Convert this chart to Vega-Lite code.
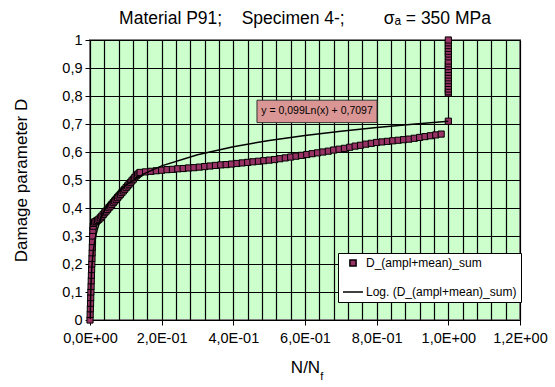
{
  "$schema": "https://vega.github.io/schema/vega-lite/v6.json",
  "width": 430,
  "height": 280,
  "autosize": {"type": "none"},
  "padding": {"left": 90, "top": 40, "right": 35, "bottom": 67},
  "background": "white",
  "title": {"text": "Material P91;\u00a0\u00a0\u00a0\u00a0Specimen 4-;\u00a0\u00a0\u00a0\u00a0\u00a0\u00a0\u00a0\u00a0σₐ = 350 MPa", "font": "Liberation Sans", "fontSize": 17.5, "fontWeight": "normal", "color": "black", "offset": 5, "anchor": "middle"},
  "datasets": {
    "points": [
      {"x": 0.0, "D": 0.0}, {"x": 0.0005, "D": 0.02}, {"x": 0.001, "D": 0.04}, {"x": 0.0015, "D": 0.06}, {"x": 0.002, "D": 0.08},
      {"x": 0.0025, "D": 0.10}, {"x": 0.003, "D": 0.12}, {"x": 0.0035, "D": 0.14}, {"x": 0.004, "D": 0.16}, {"x": 0.0045, "D": 0.18},
      {"x": 0.005, "D": 0.20}, {"x": 0.0055, "D": 0.22}, {"x": 0.006, "D": 0.24}, {"x": 0.0065, "D": 0.26}, {"x": 0.007, "D": 0.28},
      {"x": 0.0075, "D": 0.30}, {"x": 0.008, "D": 0.32}, {"x": 0.009, "D": 0.335}, {"x": 0.010, "D": 0.345},
      {"x": 0.013, "D": 0.350}, {"x": 0.017, "D": 0.353}, {"x": 0.021, "D": 0.356}, {"x": 0.025, "D": 0.360}, {"x": 0.029, "D": 0.365},
      {"x": 0.033, "D": 0.371}, {"x": 0.037, "D": 0.377}, {"x": 0.041, "D": 0.383}, {"x": 0.045, "D": 0.389}, {"x": 0.049, "D": 0.395},
      {"x": 0.053, "D": 0.401}, {"x": 0.057, "D": 0.407}, {"x": 0.061, "D": 0.413}, {"x": 0.065, "D": 0.419}, {"x": 0.069, "D": 0.425},
      {"x": 0.073, "D": 0.431}, {"x": 0.077, "D": 0.437}, {"x": 0.081, "D": 0.443}, {"x": 0.085, "D": 0.449}, {"x": 0.089, "D": 0.455},
      {"x": 0.093, "D": 0.461}, {"x": 0.097, "D": 0.467}, {"x": 0.101, "D": 0.473}, {"x": 0.105, "D": 0.479}, {"x": 0.109, "D": 0.485},
      {"x": 0.113, "D": 0.491}, {"x": 0.117, "D": 0.497}, {"x": 0.121, "D": 0.503}, {"x": 0.125, "D": 0.509}, {"x": 0.129, "D": 0.515},
      {"x": 0.133, "D": 0.520}, {"x": 0.137, "D": 0.524},
      {"x": 0.140, "D": 0.527}, {"x": 0.155, "D": 0.529}, {"x": 0.170, "D": 0.531}, {"x": 0.185, "D": 0.533}, {"x": 0.200, "D": 0.535},
      {"x": 0.215, "D": 0.537}, {"x": 0.230, "D": 0.538}, {"x": 0.245, "D": 0.540}, {"x": 0.260, "D": 0.541}, {"x": 0.275, "D": 0.543},
      {"x": 0.290, "D": 0.544}, {"x": 0.305, "D": 0.546}, {"x": 0.320, "D": 0.548}, {"x": 0.335, "D": 0.550}, {"x": 0.350, "D": 0.552},
      {"x": 0.365, "D": 0.554}, {"x": 0.380, "D": 0.555}, {"x": 0.395, "D": 0.557}, {"x": 0.410, "D": 0.559}, {"x": 0.425, "D": 0.561},
      {"x": 0.440, "D": 0.563}, {"x": 0.455, "D": 0.565}, {"x": 0.470, "D": 0.567}, {"x": 0.485, "D": 0.569}, {"x": 0.500, "D": 0.571},
      {"x": 0.515, "D": 0.573}, {"x": 0.530, "D": 0.576}, {"x": 0.545, "D": 0.579}, {"x": 0.560, "D": 0.582}, {"x": 0.575, "D": 0.585},
      {"x": 0.590, "D": 0.588}, {"x": 0.605, "D": 0.591}, {"x": 0.620, "D": 0.594}, {"x": 0.635, "D": 0.597}, {"x": 0.650, "D": 0.600},
      {"x": 0.665, "D": 0.603}, {"x": 0.680, "D": 0.607}, {"x": 0.695, "D": 0.610}, {"x": 0.710, "D": 0.613}, {"x": 0.725, "D": 0.617},
      {"x": 0.740, "D": 0.621}, {"x": 0.755, "D": 0.624}, {"x": 0.770, "D": 0.628}, {"x": 0.785, "D": 0.631}, {"x": 0.800, "D": 0.634},
      {"x": 0.815, "D": 0.636}, {"x": 0.830, "D": 0.638}, {"x": 0.845, "D": 0.640}, {"x": 0.860, "D": 0.642}, {"x": 0.875, "D": 0.644},
      {"x": 0.890, "D": 0.646}, {"x": 0.905, "D": 0.649}, {"x": 0.920, "D": 0.652}, {"x": 0.935, "D": 0.655}, {"x": 0.950, "D": 0.658},
      {"x": 0.965, "D": 0.661}, {"x": 0.980, "D": 0.664},
      {"x": 1.0, "D": 0.71}, {"x": 1.0, "D": 0.81}, {"x": 1.0, "D": 0.815}, {"x": 1.0, "D": 0.825}, {"x": 1.0, "D": 0.835},
      {"x": 1.0, "D": 0.845}, {"x": 1.0, "D": 0.855}, {"x": 1.0, "D": 0.865}, {"x": 1.0, "D": 0.875}, {"x": 1.0, "D": 0.885},
      {"x": 1.0, "D": 0.895}, {"x": 1.0, "D": 0.905}, {"x": 1.0, "D": 0.915}, {"x": 1.0, "D": 0.925}, {"x": 1.0, "D": 0.94},
      {"x": 1.0, "D": 0.95}, {"x": 1.0, "D": 0.96}, {"x": 1.0, "D": 0.97}, {"x": 1.0, "D": 0.98}, {"x": 1.0, "D": 0.99}, {"x": 1.0, "D": 1.0}
    ],
    "trend": [
      {"x": 0.0008, "D": 0.004}, {"x": 0.001, "D": 0.026}, {"x": 0.0015, "D": 0.066}, {"x": 0.002, "D": 0.0945}, {"x": 0.003, "D": 0.1346},
      {"x": 0.004, "D": 0.1631}, {"x": 0.005, "D": 0.1852}, {"x": 0.007, "D": 0.2185}, {"x": 0.01, "D": 0.2538}, {"x": 0.015, "D": 0.2939},
      {"x": 0.02, "D": 0.3224}, {"x": 0.03, "D": 0.3625}, {"x": 0.04, "D": 0.391}, {"x": 0.05, "D": 0.4131}, {"x": 0.07, "D": 0.4464},
      {"x": 0.1, "D": 0.4817}, {"x": 0.15, "D": 0.5219}, {"x": 0.2, "D": 0.5504}, {"x": 0.3, "D": 0.5905}, {"x": 0.4, "D": 0.619},
      {"x": 0.5, "D": 0.6411}, {"x": 0.6, "D": 0.6591}, {"x": 0.7, "D": 0.6744}, {"x": 0.8, "D": 0.6876}, {"x": 0.9, "D": 0.6993}, {"x": 1.0, "D": 0.7097}
    ],
    "note": [{"label": "y = 0,099Ln(x) + 0,7097", "sub": "f"}]
  },
  "layer": [
    {
      "data": {"name": "points"},
      "mark": {"type": "point", "filled": true, "color": "#993366", "stroke": "black", "strokeWidth": 1, "opacity": 1},
      "encoding": {
        "x": {
          "field": "x", "type": "quantitative",
          "scale": {"domain": [0, 1.2], "nice": false, "zero": false},
          "axis": {
            "title": "N/N", "titleFont": "Liberation Sans", "titleFontSize": 17, "titleFontWeight": "normal", "titleColor": "black", "titlePadding": 15,
            "values": [0, 0.04, 0.08, 0.12, 0.16, 0.2, 0.24, 0.28, 0.32, 0.36, 0.4, 0.44, 0.48, 0.52, 0.56, 0.6, 0.64, 0.68, 0.72, 0.76, 0.8, 0.84, 0.88, 0.92, 0.96, 1, 1.04, 1.08, 1.12, 1.16, 1.2],
            "tickCount": 31,
            "grid": true, "gridColor": "black", "gridWidth": 1.2, "gridOpacity": 1,
            "domainColor": "black", "domainWidth": 1,
            "tickColor": "black", "tickSize": 5, "tickWidth": 1,
            "tickOpacity": {"condition": {"test": "abs(datum.value*5 - round(datum.value*5)) < 0.001", "value": 1}, "value": 0},
            "labelExpr": "abs(datum.value*5 - round(datum.value*5)) < 0.001 ? replace(replace(replace(replace(format(datum.value, '.1e'), '.', ','), 'e', 'E'), 'E-', 'E-0'), 'E+', 'E+0') : ''",
            "labelOverlap": false, "labelFlush": false,
            "labelFont": "Liberation Sans", "labelFontSize": 14.5, "labelColor": "black", "labelPadding": 6
          }
        },
        "y": {
          "field": "D", "type": "quantitative",
          "scale": {"domain": [0, 1], "nice": false},
          "axis": {
            "title": "Damage parameter D", "titleFont": "Liberation Sans", "titleFontSize": 17, "titleFontWeight": "normal", "titleColor": "black", "titlePadding": 31,
            "values": [0, 0.1, 0.2, 0.3, 0.4, 0.5, 0.6, 0.7, 0.8, 0.9, 1],
            "tickCount": 11,
            "grid": true, "gridColor": "black", "gridWidth": 1.2, "gridOpacity": 1,
            "domainColor": "black", "domainWidth": 1,
            "tickColor": "black", "tickSize": 5, "tickWidth": 1,
            "labelExpr": "replace(format(datum.value, '.1~f'), '.', ',')",
            "labelOverlap": false, "labelFlush": false,
            "labelFont": "Liberation Sans", "labelFontSize": 14.5, "labelColor": "black", "labelPadding": 3
          }
        },
        "shape": {
          "datum": "D_(ampl+mean)_sum",
          "scale": {"domain": ["D_(ampl+mean)_sum", "Log. (D_(ampl+mean)_sum)"], "range": ["square", "stroke"]},
          "legend": {
            "orient": "none", "legendX": 248, "legendY": 213, "title": null,
            "fillColor": "white", "strokeColor": "black", "padding": 4,
            "labelFont": "Liberation Sans", "labelFontSize": 12, "labelColor": "black", "labelLimit": 300, "labelOffset": 2,
            "rowPadding": 11
          }
        },
        "size": {
          "datum": "D_(ampl+mean)_sum",
          "scale": {"domain": ["D_(ampl+mean)_sum", "Log. (D_(ampl+mean)_sum)"], "range": [38, 400]},
          "legend": {
            "orient": "none", "legendX": 248, "legendY": 213, "title": null,
            "fillColor": "white", "strokeColor": "black", "padding": 4,
            "labelFont": "Liberation Sans", "labelFontSize": 12, "labelColor": "black", "labelLimit": 300, "labelOffset": 2,
            "rowPadding": 11
          }
        }
      }
    },
    {
      "data": {"name": "trend"},
      "mark": {"type": "line", "strokeWidth": 1.5, "color": "black"},
      "encoding": {
        "x": {"field": "x", "type": "quantitative"},
        "y": {"field": "D", "type": "quantitative"}
      }
    },
    {
      "data": {"name": "note"},
      "mark": {"type": "rect", "fill": "#D99694", "stroke": "#333333", "strokeWidth": 1},
      "encoding": {
        "x": {"datum": 0.466},
        "x2": {"datum": 0.801},
        "y": {"datum": 0.785},
        "y2": {"datum": 0.705}
      }
    },
    {
      "data": {"name": "note"},
      "mark": {"type": "text", "font": "Liberation Sans", "fontSize": 10.5, "fill": "black", "align": "center", "baseline": "middle"},
      "encoding": {
        "x": {"datum": 0.6335},
        "y": {"datum": 0.745},
        "text": {"field": "label"}
      }
    },
    {
      "data": {"name": "note"},
      "mark": {"type": "text", "font": "Liberation Sans", "fontSize": 11, "fill": "black", "align": "left", "baseline": "alphabetic", "clip": false},
      "encoding": {
        "x": {"datum": 0.6425},
        "y": {"datum": -0.215},
        "text": {"field": "sub"}
      }
    }
  ],
  "config": {
    "view": {"fill": "#CCFFCC", "stroke": "#808080", "strokeWidth": 2}
  }
}
